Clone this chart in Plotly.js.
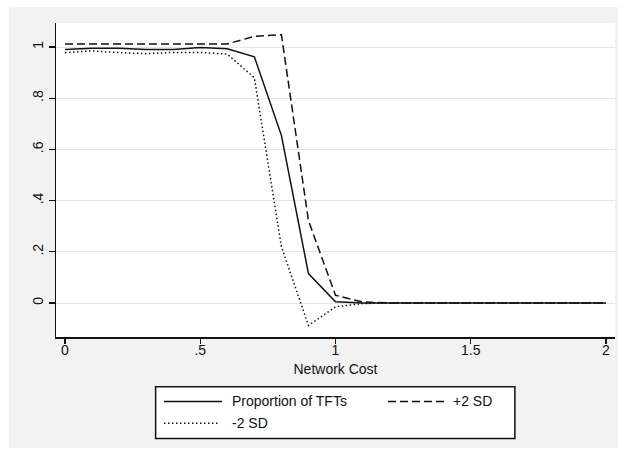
<!DOCTYPE html>
<html>
<head>
<meta charset="utf-8">
<script src="https://cdn.plot.ly/plotly-3.0.1.min.js"></script>
<style>
  html, body { margin: 0; padding: 0; background: #ffffff; width: 621px; height: 457px; overflow: hidden; }
  #chart { position: absolute; left: 9px; top: 7px; width: 609px; height: 441px; }
</style>
</head>
<body>
<div id="chart"></div>
<script>
// ---- data ----
const networkCost = [0, 0.1, 0.2, 0.3, 0.4, 0.5, 0.6, 0.7, 0.8, 0.9, 1.0,
                     1.1, 1.2, 1.3, 1.4, 1.5, 1.6, 1.7, 1.8, 1.9, 2.0];
const proportionTFT = [0.990, 0.995, 0.995, 0.990, 0.990, 0.998, 0.993, 0.962, 0.655, 0.115, 0.005,
                       0, 0, 0, 0, 0, 0, 0, 0, 0, 0];
const plus2SD = [1.012, 1.012, 1.012, 1.012, 1.012, 1.012, 1.012, 1.042, 1.048, 0.322, 0.030,
                 0.004, 0, 0, 0, 0, 0, 0, 0, 0, 0];
const minus2SD = [0.978, 0.985, 0.978, 0.974, 0.979, 0.979, 0.972, 0.880, 0.220, -0.088, -0.015,
                  -0.002, 0, 0, 0, 0, 0, 0, 0, 0, 0];
const seriesNames = ["Proportion of TFTs", "+2 SD", "-2 SD"];
const xTickVals = [0, 0.5, 1, 1.5, 2];
const xTickText = ["0", ".5", "1", "1.5", "2"];
const yTickVals = [0, 0.2, 0.4, 0.6, 0.8, 1];
const yTickText = ["0", ".2", ".4", ".6", ".8", "1"];
const xTitle = "Network Cost";

const FONT = "Liberation Sans, Arial, Helvetica, sans-serif";
const INK = "#111111";
const dashes = ["solid", "8px,4px", "1.5px,2.5px"];

const traces = [proportionTFT, plus2SD, minus2SD].map((ys, i) => ({
  type: "scatter",
  mode: "lines",
  x: networkCost,
  y: ys,
  name: seriesNames[i],
  line: { color: INK, width: 1.5, dash: dashes[i] },
  showlegend: false,
  hoverinfo: "skip"
}));

// Custom Stata-style legend (box, sample lines, labels) in paper coordinates
const legendBox = { x0: 0.1782, x1: 0.8209, y0: -0.3232, y1: -0.1583 };
const legendItems = [
  { sx0: 0.1932, sx1: 0.2970, y: -0.2054, tx: 0.3113 },
  { sx0: 0.5939, sx1: 0.7004, y: -0.2054, tx: 0.7066 },
  { sx0: 0.1932, sx1: 0.2898, y: -0.2748, tx: 0.3113 }
];
const shapes = [{
  type: "rect", xref: "paper", yref: "paper",
  x0: legendBox.x0, x1: legendBox.x1, y0: legendBox.y0, y1: legendBox.y1,
  line: { color: INK, width: 1.5 }, fillcolor: "#ffffff", layer: "above"
}];
const annotations = [];
legendItems.forEach((it, i) => {
  shapes.push({
    type: "line", xref: "paper", yref: "paper",
    x0: it.sx0, x1: it.sx1, y0: it.y, y1: it.y,
    line: { color: INK, width: 1.5, dash: dashes[i] }, layer: "above"
  });
  annotations.push({
    xref: "paper", yref: "paper", x: it.tx, y: it.y,
    xanchor: "left", yanchor: "middle", showarrow: false,
    text: seriesNames[i], font: { family: FONT, size: 14, color: INK }
  });
});

const layout = {
  width: 609, height: 441,
  paper_bgcolor: "#f2f2f2",
  plot_bgcolor: "#ffffff",
  margin: { l: 47, r: 3, t: 16, b: 111, pad: 0 },
  font: { family: FONT, size: 14, color: INK },
  showlegend: false,
  xaxis: {
    range: [-0.0333, 2.0333],
    tickmode: "array", tickvals: xTickVals, ticktext: xTickText,
    ticks: "outside", ticklen: 5, tickwidth: 1.3, tickcolor: INK,
    ticklabelstandoff: -5,
    showline: true, linecolor: INK, linewidth: 1.5,
    showgrid: false, zeroline: false,
    tickfont: { family: FONT, size: 14, color: INK },
    title: { text: xTitle, font: { family: FONT, size: 14, color: INK }, standoff: 7 },
    automargin: false, fixedrange: true
  },
  yaxis: {
    range: [-0.1328, 1.0938],
    tickmode: "array", tickvals: yTickVals, ticktext: yTickText,
    tickangle: -90,
    ticks: "outside", ticklen: 6, tickwidth: 1.3, tickcolor: INK,
    showline: true, linecolor: INK, linewidth: 1.5,
    showgrid: true, gridcolor: "#e6e6e6", gridwidth: 1,
    zeroline: false,
    tickfont: { family: FONT, size: 14, color: INK },
    automargin: false, fixedrange: true
  },
  shapes: shapes,
  annotations: annotations
};

Plotly.newPlot("chart", traces, layout, { displayModeBar: false, staticPlot: true });
</script>
</body>
</html>
